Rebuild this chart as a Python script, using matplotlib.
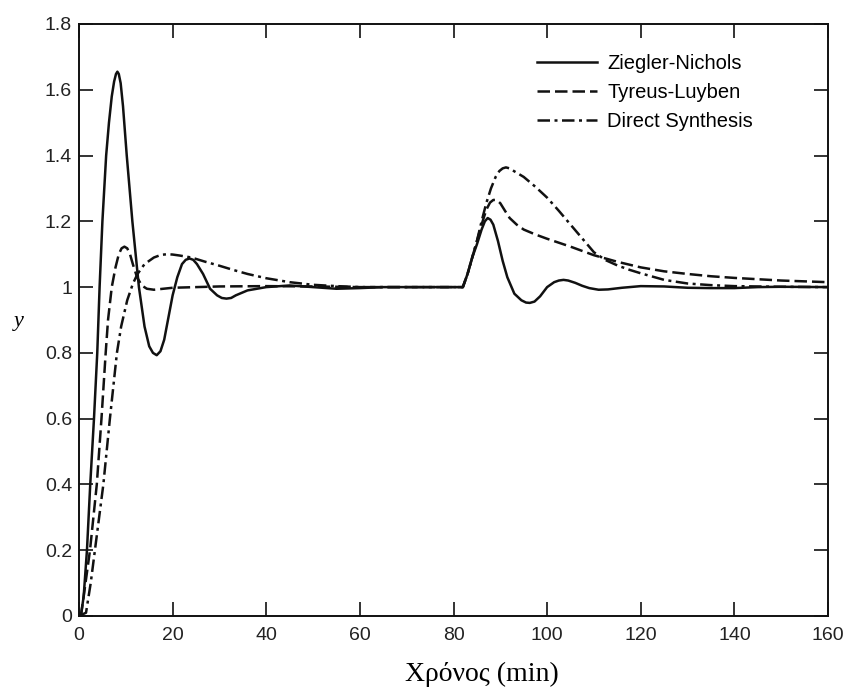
import matplotlib.pyplot as plt

# --- data (time in min, response y) ---
t_zn = [0, 0.5, 1.0, 1.7, 2.4, 3.2, 3.9, 4.4, 5.0, 5.8, 6.4, 7.0, 7.5, 7.9, 8.2, 8.5, 8.9,
        9.4, 10.2, 11.4, 12.8, 14.0, 15.0, 15.8, 16.6, 17.4, 18.2, 19.0, 20.0, 21.0,
        22.0, 22.8, 23.6, 24.4, 25.2, 26.5, 28.0, 29.5, 30.5, 31.5, 32.5, 33.5, 36.0,
        40.0, 45.0, 50.0, 55.0, 60.0, 65.0, 70.0, 81.0,
        82.0, 83.0, 84.0, 85.0, 86.0, 86.7, 87.3, 87.9, 88.5, 89.5, 90.5, 91.5, 93.0,
        94.5, 95.5, 96.3, 97.3, 98.5, 100.0, 101.5, 102.5, 103.5, 104.5, 106.0, 107.5,
        109.0, 111.0, 113.0, 116.0, 120.0, 125.0, 130.0, 135.0, 140.0, 145.0, 150.0,
        160.0]
y_zn = [0, 0.01, 0.06, 0.2, 0.4, 0.6, 0.8, 1.0, 1.2, 1.4, 1.5, 1.58, 1.625, 1.648, 1.655,
        1.648, 1.62, 1.55, 1.4, 1.2, 1.0, 0.88, 0.82, 0.8, 0.793, 0.805, 0.84, 0.9,
        0.975, 1.03, 1.07, 1.083, 1.087, 1.083, 1.07, 1.04, 0.995, 0.975, 0.967, 0.965,
        0.967, 0.975, 0.99, 1.0, 1.005, 1.0, 0.995, 0.997, 1.0, 1.0, 1.0,
        1.0, 1.04, 1.09, 1.13, 1.175, 1.2, 1.21, 1.205, 1.19, 1.14, 1.08, 1.03, 0.98,
        0.96, 0.953, 0.952, 0.956, 0.972, 1.0, 1.015, 1.02, 1.022, 1.02, 1.013, 1.004,
        0.997, 0.992, 0.993, 0.998, 1.003, 1.002, 0.998, 0.997, 0.997, 1.0, 1.001,
        1.0]

t_tl = [0, 0.5, 1.0, 2.35, 3.8, 4.8, 5.7, 6.2, 7.0, 7.8, 8.5, 9.1, 9.7, 10.3, 10.9, 11.5,
        12.4, 13.4, 14.5, 16.0, 18.0, 20.0, 25.0, 30.0, 40.0, 50.0, 60.0, 81.0,
        82.0, 83.0, 84.0, 85.0, 86.0, 87.0, 87.8, 88.5, 89.2, 90.0, 91.0, 92.0, 93.5,
        95.0, 97.5, 100.0, 105.0, 110.0, 115.0, 120.0, 125.0, 130.0, 135.0, 140.0,
        150.0, 160.0]
y_tl = [0, 0.01, 0.06, 0.2, 0.4, 0.6, 0.8, 0.9, 1.0, 1.06, 1.1, 1.118, 1.123, 1.118, 1.1,
        1.07, 1.03, 1.005, 0.995, 0.992, 0.995, 0.998, 1.0, 1.002, 1.003, 1.002, 1.0,
        1.0,
        1.0, 1.04, 1.09, 1.14, 1.19, 1.235, 1.257, 1.265, 1.265, 1.255, 1.232, 1.21,
        1.19, 1.175, 1.16, 1.147, 1.123, 1.097, 1.077, 1.06, 1.048, 1.04, 1.033, 1.028,
        1.02, 1.015]

t_ds = [0, 1.5, 2.5, 3.4, 5.2, 6.6, 8.1, 9.0, 10.3, 11.5, 12.5, 14.0, 16.0, 17.5, 18.8,
        20.0, 21.5, 24.0, 27.0, 30.0, 33.0, 36.0, 40.0, 45.0, 50.0, 55.0, 60.0, 81.0,
        82.0, 83.0, 84.0, 85.0, 86.0, 87.0, 88.0, 89.0, 89.8, 90.5, 91.2, 92.0, 93.0,
        95.0, 97.5, 100.0, 102.5, 105.0, 107.5, 110.0, 112.5, 115.0, 117.5, 120.0,
        125.0, 130.0, 135.0, 140.0, 150.0, 160.0]
y_ds = [0, 0.01, 0.1, 0.2, 0.4, 0.6, 0.8, 0.88, 0.96, 1.01, 1.04, 1.07, 1.09, 1.098, 1.1,
        1.099, 1.096, 1.09, 1.077, 1.065, 1.052, 1.04, 1.027, 1.015, 1.007, 1.003, 1.0,
        1.0,
        1.0, 1.04, 1.09, 1.14, 1.2, 1.255, 1.3, 1.335, 1.353, 1.361, 1.364, 1.361,
        1.352, 1.335, 1.305, 1.272, 1.232, 1.19, 1.148, 1.106, 1.082, 1.066, 1.053,
        1.042, 1.022, 1.011, 1.006, 1.003, 1.001, 1.0]

series_labels = ['Ziegler-Nichols', 'Tyreus-Luyben', 'Direct Synthesis']
x_ticks = [0, 20, 40, 60, 80, 100, 120, 140, 160]
y_ticks = [0, 0.2, 0.4, 0.6, 0.8, 1.0, 1.2, 1.4, 1.6, 1.8]
y_tick_labels = ['0', '0.2', '0.4', '0.6', '0.8', '1', '1.2', '1.4', '1.6', '1.8']

plt.rcParams['font.family'] = ['Liberation Sans', 'DejaVu Sans']

fig = plt.figure(figsize=(8.52, 6.88), dpi=100)
ax = fig.add_axes([79 / 852, 1 - 616 / 688, 749 / 852, 592 / 688])

ink = '#111111'
lw = 1.8
ax.plot(t_zn, y_zn, color=ink, lw=lw, label=series_labels[0])
ax.plot(t_tl, y_tl, color=ink, lw=lw, dashes=(5, 2), label=series_labels[1])
ax.plot(t_ds, y_ds, color=ink, lw=lw, dashes=(5, 1.8, 1.2, 1.8), label=series_labels[2])

ax.set_xlim(0, 160)
ax.set_ylim(0, 1.8)
ax.set_xticks(x_ticks)
ax.set_yticks(y_ticks)
ax.set_yticklabels(y_tick_labels)
ax.tick_params(direction='in', length=10, width=1.2, top=True, right=True,
               labelsize=14, labelcolor='#222222', color=ink)
ax.tick_params(axis='x', pad=8)
ax.tick_params(axis='y', pad=5)
for sp in ax.spines.values():
    sp.set_linewidth(1.4)
    sp.set_color(ink)

ax.legend(loc='upper left', bbox_to_anchor=(0.611, 0.95), frameon=False,
          fontsize=14.5, handlelength=3.0, handletextpad=0.5, labelspacing=0.5,
          borderpad=0, borderaxespad=0)

fig.text(19 / 852, 1 - 322 / 688, 'y', family='Liberation Serif', style='italic',
         fontsize=16, ha='center', va='center')
fig.text(482 / 852, 7 / 688, 'Χρόνος (min)', family='Liberation Serif',
         fontsize=20, ha='center', va='baseline')

fig.savefig('out.png', dpi=100)
